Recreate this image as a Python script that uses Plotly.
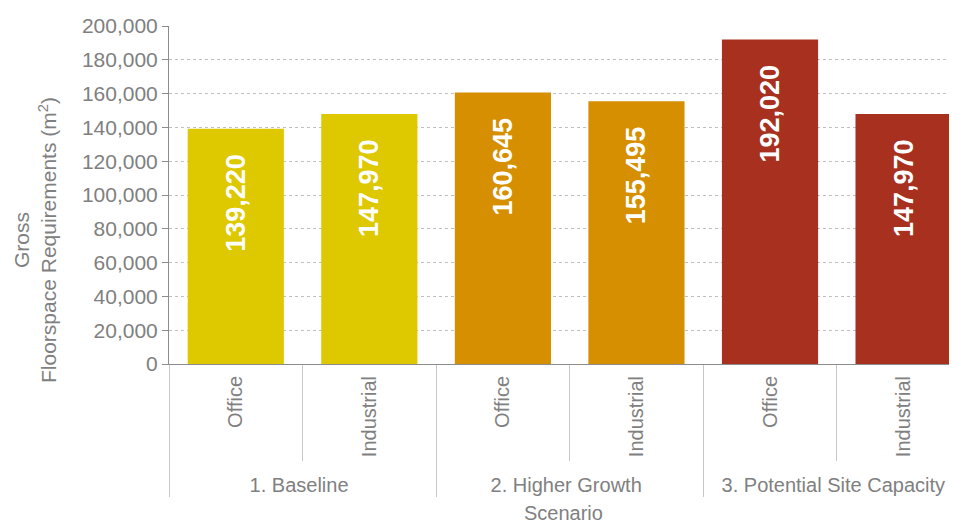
import plotly.graph_objects as go

scenarios = ["1. Baseline", "1. Baseline",
             "2. Higher Growth", "2. Higher Growth",
             "3. Potential Site Capacity", "3. Potential Site Capacity"]
uses = ["Office", "Industrial", "Office", "Industrial", "Office", "Industrial"]
values = [139220, 147970, 160645, 155495, 192020, 147970]
bar_colors = ["#DEC800", "#DEC800", "#D68F00", "#D68F00", "#A8301F", "#A8301F"]
y_ticks = [0, 20000, 40000, 60000, 80000, 100000, 120000, 140000, 160000, 180000, 200000]

FONT = "Liberation Sans, Arial, sans-serif"
GREY = "#808080"

fig = go.Figure(go.Bar(
    x=[scenarios, uses],
    y=values,
    marker=dict(color=bar_colors, line=dict(width=0)),
    texttemplate="%{y:,}\u00a0\u00a0\u00a0",
    textposition="inside",
    insidetextanchor="end",
    textangle=-90,
    textfont=dict(family=FONT, size=27, color="white", weight="bold"),
    cliponaxis=False,
))

# page body adds an 8px offset, so the figure is sized to the visible area
fig.update_layout(
    width=949, height=514,
    margin=dict(l=161, r=0, t=18, b=158, autoexpand=False),
    paper_bgcolor="white", plot_bgcolor="white",
    bargap=0.28,
    showlegend=False,
    font=dict(family=FONT, size=20, color=GREY),
)

fig.update_xaxes(
    type="multicategory",
    range=[-0.5, 5.4],
    automargin=False,
    showline=True, linecolor="#8c8c8c", linewidth=1,
    ticks="outside", tickson="boundaries", ticklen=96, tickcolor="#c8c8c8",
    tickangle=-90,
    ticklabelstandoff=3,
    showdividers=True, dividercolor="#c8c8c8", dividerwidth=1,
    tickfont=dict(family=FONT, size=20, color=GREY),
    showgrid=False,
)

fig.update_yaxes(
    range=[0, 200000],
    automargin=False,
    tickvals=y_ticks,
    tickformat=",",
    showline=True, linecolor="#8c8c8c", linewidth=1,
    ticks="outside", ticklen=6, tickcolor="#8c8c8c",
    showgrid=True, gridcolor="#bfbfbf", gridwidth=1, griddash="dot",
    zeroline=False,
    tickfont=dict(family=FONT, size=21, color=GREY),
)

fig.add_annotation(
    text="Gross<br>Floorspace Requirements (m<sup>2</sup>)",
    xref="paper", yref="paper", x=-0.17, y=0.367,
    xanchor="center", yanchor="middle",
    textangle=-90, showarrow=False,
    font=dict(family=FONT, size=21, color=GREY),
)

fig.add_annotation(
    text="Scenario",
    xref="paper", yref="paper", x=0.5, y=-0.441,
    xanchor="center", yanchor="middle",
    showarrow=False,
    font=dict(family=FONT, size=20, color=GREY),
)

fig.write_html("out.html")
